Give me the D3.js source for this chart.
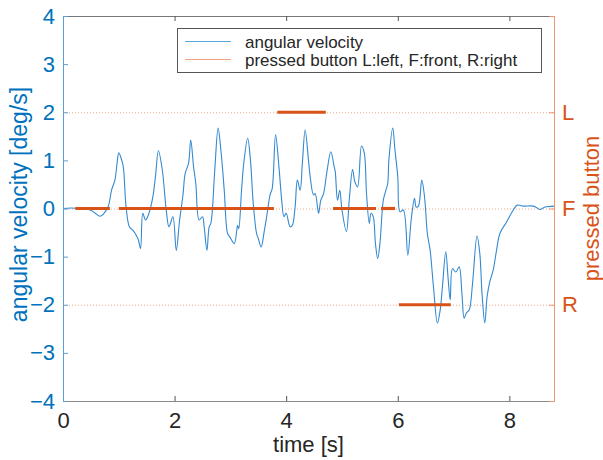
<!DOCTYPE html>
<html>
<head>
<meta charset="utf-8">
<script src="https://cdn.jsdelivr.net/npm/d3@7"></script>
<style>
  body { margin: 0; background: #fff; }
  svg text { font-family: "Liberation Sans", Arial, sans-serif; }
</style>
</head>
<body>
<svg id="chart" width="603" height="460"></svg>
<script>
// time axis of the recording [s]
var timeS = [
  0.00, 0.15, 0.30, 0.45, 0.51, 0.58, 0.66, 0.72, 0.81, 0.87, 0.93, 0.97, 1.00, 1.04, 1.08,
  1.13, 1.19, 1.25, 1.31, 1.35, 1.39, 1.43, 1.48, 1.54, 1.61, 1.66, 1.71, 1.78, 1.85, 1.90,
  1.97, 2.03, 2.09, 2.15, 2.19, 2.25, 2.29, 2.34, 2.38, 2.44, 2.50, 2.53, 2.58, 2.62, 2.65,
  2.72, 2.78, 2.83, 2.89, 2.95, 2.99, 3.07, 3.13, 3.15, 3.20, 3.24, 3.31, 3.36, 3.41, 3.47,
  3.50, 3.55, 3.61, 3.65, 3.71, 3.75, 3.81, 3.87, 3.92, 3.96, 4.00, 4.07, 4.11, 4.16, 4.20,
  4.25, 4.29, 4.34, 4.40, 4.43, 4.49, 4.52, 4.58, 4.62, 4.67, 4.73, 4.80, 4.86, 4.88, 4.92,
  4.96, 5.00, 5.08, 5.13, 5.19, 5.23, 5.28, 5.35, 5.40, 5.44, 5.49, 5.52, 5.56, 5.60, 5.64,
  5.68, 5.74, 5.78, 5.82, 5.84, 5.91, 5.95, 6.00, 6.04, 6.10, 6.18, 6.24, 6.30, 6.33, 6.37,
  6.43, 6.48, 6.53, 6.58, 6.64, 6.71, 6.76, 6.80, 6.86, 6.90, 6.94, 6.98, 7.04, 7.10, 7.15,
  7.19, 7.23, 7.28, 7.34, 7.42, 7.47, 7.51, 7.56, 7.60, 7.65, 7.71, 7.77, 7.83, 7.95, 8.07,
  8.14, 8.25, 8.43, 8.50, 8.55, 8.64, 8.80
];

// angular velocity [deg/s]
var angularVelocity = [
  0.00, 0.01, 0.00, -0.02, -0.04, -0.10, -0.16, -0.12, 0.04, 0.38, 0.59, 0.95, 1.16, 1.05, 0.87,
  0.04, -0.38, -0.45, -0.55, -0.65, -0.83, -0.10, -0.24, -0.10, 0.24, 0.70, 1.20, 0.80, -0.03, -0.38,
  -0.17, -0.87, -0.24, 0.28, 0.73, 0.94, 1.42, 0.87, 0.52, -0.24, -0.17, -0.38, -0.87, -0.38, -0.31,
  0.80, 1.67, 1.21, 0.38, -0.52, -0.59, -0.73, -0.35, -0.42, 0.38, 0.94, 1.46, 1.00, 0.10, -0.52,
  -0.62, -0.80, -0.45, -0.17, 0.28, 0.42, 1.53, 0.87, 0.17, -0.17, -0.10, -0.38, -0.35, 0.03, 0.59,
  0.38, 0.94, 1.63, 1.00, 0.66, 0.28, 0.31, -0.10, 0.17, 0.31, 0.76, 1.18, 0.87, 0.76, 0.17,
  0.38, -0.03, -0.48, 0.17, 0.81, 0.56, 0.45, 1.30, 1.15, 0.31, -0.31, -0.10, -0.17, -0.73, -1.04,
  -0.73, 0.17, 0.35, 0.52, 1.00, 1.67, 1.21, 0.66, -0.07, -0.03, -0.97, -0.24, 0.21, 0.03, 0.05,
  0.59, 0.24, -0.52, -0.87, -1.63, -2.38, -2.11, -1.63, -0.90, -1.42, -1.90, -1.25, -1.32, -1.21, -1.77,
  -2.28, -2.17, -2.11, -1.56, -0.57, -0.93, -1.77, -2.38, -1.84, -1.52, -1.28, -0.87, -0.52, -0.28, -0.03,
  0.07, 0.05, 0.05, 0.01, -0.02, 0.03, 0.05
];

// pressed button intervals (2 = L, 0 = F, -2 = R)
var pressStart = [0.22, 1.00, 3.84, 4.84, 5.70, 6.02];
var pressEnd   = [0.84, 3.78, 4.71, 5.61, 5.95, 6.95];
var pressLevel = [0, 0, 2, 0, 0, -2];

var xTicks = [0, 2, 4, 6, 8];
var yTicks = [-4, -3, -2, -1, 0, 1, 2, 3, 4];
var buttonTicks = [-4, -2, 0, 2, 4];
var buttonTickLabels = ["", "R", "F", "L", ""];

var blue = "#0072BD", orange = "#D95319";

var svg = d3.select("#chart");
var plotLeft = 63, plotRight = 554, plotTop = 16, plotBottom = 401;

var x = d3.scaleLinear().domain([0, 8.8]).range([plotLeft, plotRight]);
var y = d3.scaleLinear().domain([-4, 4]).range([plotBottom, plotTop]);
var yButton = d3.scaleLinear().domain([-4, 4]).range([plotBottom, plotTop]);

svg.append("clipPath").attr("id", "plotArea")
  .append("rect")
    .attr("x", plotLeft).attr("y", plotTop)
    .attr("width", plotRight - plotLeft).attr("height", plotBottom - plotTop);

// dotted reference lines for the button levels
svg.append("g")
  .selectAll("line")
  .data([-2, 0, 2])
  .join("line")
    .attr("x1", plotLeft).attr("x2", plotRight)
    .attr("y1", function(d) { return yButton(d) + 0.5; })
    .attr("y2", function(d) { return yButton(d) + 0.5; })
    .attr("stroke", "#F2A888")
    .attr("stroke-width", 1)
    .attr("stroke-dasharray", "1,2");

// angular velocity trace (smoothed through the read points)
var line = d3.line()
  .x(function(d, i) { return x(timeS[i]); })
  .y(function(d) { return y(d); })
  .curve(d3.curveCatmullRom.alpha(0.5));

svg.append("path")
  .datum(angularVelocity)
  .attr("clip-path", "url(#plotArea)")
  .attr("d", line)
  .attr("fill", "none")
  .attr("stroke", "#3389d0")
  .attr("stroke-width", 1.1)
  .attr("stroke-linejoin", "round");

// pressed button segments
svg.append("g")
  .selectAll("line")
  .data(pressLevel)
  .join("line")
    .attr("x1", function(d, i) { return x(pressStart[i]); })
    .attr("x2", function(d, i) { return x(pressEnd[i]); })
    .attr("y1", function(d) { return yButton(d); })
    .attr("y2", function(d) { return yButton(d); })
    .attr("stroke", orange)
    .attr("stroke-width", 3.2);

// axes
var bottomAxis = svg.append("g")
  .attr("transform", "translate(0," + plotBottom + ")")
  .call(d3.axisBottom(x).tickValues(xTicks).tickSize(-5).tickSizeOuter(0).tickPadding(11));
bottomAxis.selectAll("text").attr("fill", "#262626").style("font-size", "22px");
bottomAxis.selectAll("line").attr("stroke", "#555");
bottomAxis.select(".domain").attr("stroke", "#888");

var topAxis = svg.append("g")
  .attr("transform", "translate(0," + plotTop + ")")
  .call(d3.axisTop(x).tickValues(xTicks).tickSize(-5).tickSizeOuter(0).tickFormat(""));
topAxis.selectAll("line").attr("stroke", "#555");
topAxis.select(".domain").attr("stroke", "#777");

var leftAxis = svg.append("g")
  .attr("transform", "translate(" + plotLeft + ",0)")
  .call(d3.axisLeft(y).tickValues(yTicks).tickSize(-5).tickSizeOuter(0).tickPadding(8));
leftAxis.selectAll("text").attr("fill", blue).style("font-size", "22px");
leftAxis.selectAll("line").attr("stroke", "#5a9fd6");
leftAxis.select(".domain").attr("stroke", "#5a9fd6");

var rightAxis = svg.append("g")
  .attr("transform", "translate(" + plotRight + ",0)")
  .call(d3.axisRight(yButton).tickValues(buttonTicks).tickSize(-5).tickSizeOuter(0).tickPadding(8)
    .tickFormat(function(d, i) { return buttonTickLabels[i]; }));
rightAxis.selectAll("text").attr("fill", orange).style("font-size", "22px");
rightAxis.selectAll("line").attr("stroke", "#EE9570");
rightAxis.select(".domain").attr("stroke", "#EE9570");

// axis titles
svg.append("text")
  .attr("x", (plotLeft + plotRight) / 2).attr("y", 452)
  .attr("text-anchor", "middle")
  .attr("fill", "#262626")
  .style("font-size", "22px")
  .text("time [s]");

svg.append("text")
  .attr("transform", "translate(27," + ((plotTop + plotBottom) / 2 - 4) + ") rotate(-90)")
  .attr("text-anchor", "middle")
  .attr("fill", blue)
  .style("font-size", "23px")
  .text("angular velocity [deg/s]");

svg.append("text")
  .attr("transform", "translate(599," + ((plotTop + plotBottom) / 2) + ") rotate(-90)")
  .attr("text-anchor", "middle")
  .attr("fill", orange)
  .style("font-size", "22px")
  .text("pressed button");

// legend
var legend = svg.append("g");
legend.append("rect")
  .attr("x", 177.5).attr("y", 28.5)
  .attr("width", 364).attr("height", 44)
  .attr("fill", "#fff")
  .attr("stroke", "#555");
legend.append("line")
  .attr("x1", 185).attr("x2", 231).attr("y1", 41.5).attr("y2", 41.5)
  .attr("stroke", "#5aa6e0").attr("stroke-width", 1.2);
legend.append("line")
  .attr("x1", 185).attr("x2", 231).attr("y1", 59.5).attr("y2", 59.5)
  .attr("stroke", "#F3A07C").attr("stroke-width", 1.2);
legend.append("text")
  .attr("x", 245).attr("y", 47.5)
  .attr("fill", "#262626")
  .style("font-size", "17px")
  .text("angular velocity");
legend.append("text")
  .attr("x", 245).attr("y", 65.5)
  .attr("fill", "#262626")
  .style("font-size", "17px")
  .text("pressed button L:left, F:front, R:right");
</script>
</body>
</html>
